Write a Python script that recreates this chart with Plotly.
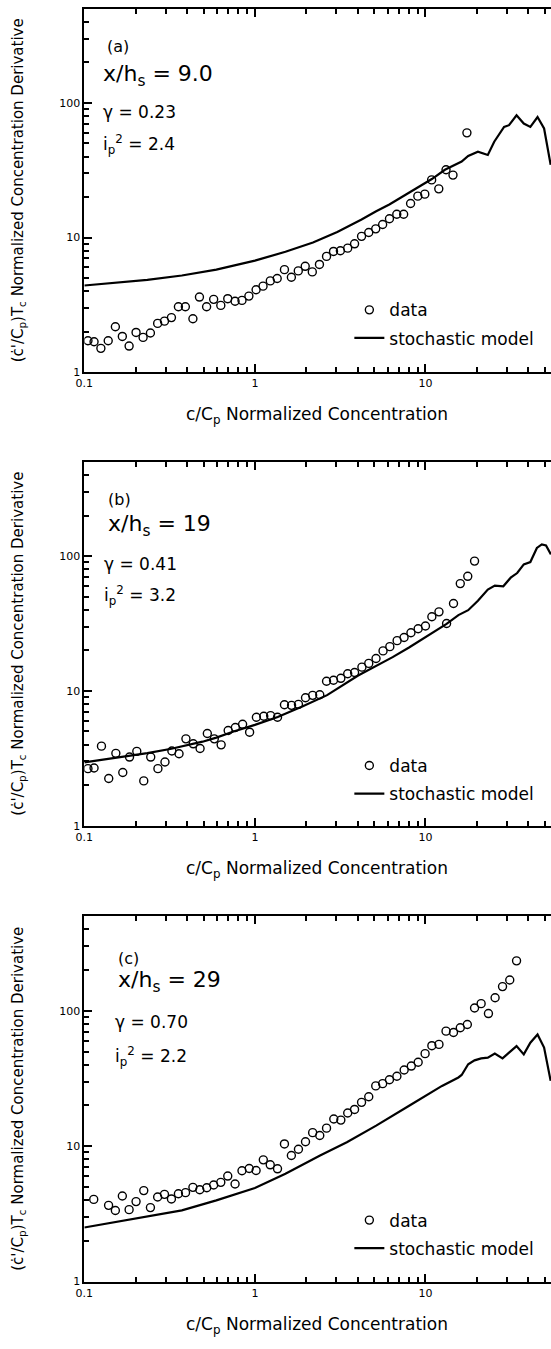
import plotly.graph_objects as go

W, H = 551, 1349
FONT = "DejaVu Sans, Liberation Sans, Arial, sans-serif"

# ---------------- data ----------------
a_data_x = [0.105, 0.114, 0.125, 0.138, 0.152, 0.167, 0.183, 0.201, 0.221, 0.244,
            0.269, 0.295, 0.324, 0.356, 0.391, 0.433, 0.473, 0.521, 0.573, 0.631,
            0.693, 0.765, 0.840, 0.922, 1.016, 1.116, 1.231, 1.351, 1.49, 1.636,
            1.796, 1.972, 2.17, 2.39, 2.63, 2.89, 3.17, 3.50, 3.84, 4.22,
            4.65, 5.11, 5.61, 6.15, 6.79, 7.45, 8.18, 9.02, 9.91, 10.87,
            11.97, 13.2, 14.5, 17.5]
a_data_y = [1.71, 1.68, 1.50, 1.71, 2.17, 1.84, 1.56, 1.97, 1.81, 1.95,
            2.30, 2.39, 2.54, 3.06, 3.06, 2.49, 3.61, 3.06, 3.47, 3.13,
            3.51, 3.36, 3.41, 3.67, 4.09, 4.35, 4.76, 4.96, 5.77, 5.07,
            5.65, 6.11, 5.55, 6.31, 7.24, 7.88, 7.97, 8.34, 8.98, 10.2,
            10.9, 11.6, 12.5, 13.8, 14.9, 14.9, 17.9, 20.3, 21.0, 26.8,
            23.0, 31.9, 29.1, 60.0]
a_model_x = [0.1, 0.147, 0.234, 0.373, 0.594, 1.0, 1.51, 2.19, 3.04, 4.22,
             5.14, 6.14, 8.02, 10.9, 13.0, 16.3, 17.8, 20.3, 23.2, 25.3,
             28.9, 30.9, 34.2, 37.7, 41.2, 45.4, 49.6, 54.2]
a_model_y = [4.40, 4.58, 4.85, 5.22, 5.77, 6.73, 7.84, 9.18, 11.0, 13.6,
             15.7, 17.6, 21.5, 27.2, 31.9, 36.7, 40.4, 43.5, 41.1, 51.5,
             66.4, 68.4, 81.0, 70.4, 66.4, 78.7, 64.7, 34.7]

b_data_x = [0.105, 0.114, 0.126, 0.139, 0.153, 0.168, 0.184, 0.203, 0.223, 0.245,
            0.270, 0.297, 0.326, 0.359, 0.394, 0.435, 0.477, 0.526, 0.578, 0.634,
            0.697, 0.768, 0.847, 0.931, 1.02, 1.127, 1.236, 1.357, 1.49, 1.64,
            1.80, 1.98, 2.18, 2.40, 2.63, 2.89, 3.19, 3.50, 3.84, 4.24,
            4.65, 5.13, 5.64, 6.18, 6.82, 7.49, 8.22, 9.06, 10.0, 10.9,
            12.0, 13.3, 14.6, 16.0, 17.7, 19.4]
b_data_y = [2.65, 2.68, 3.89, 2.24, 3.44, 2.48, 3.23, 3.56, 2.15, 3.23,
            2.65, 2.97, 3.58, 3.42, 4.41, 4.05, 3.74, 4.83, 4.41, 3.98,
            5.08, 5.35, 5.66, 4.94, 6.37, 6.48, 6.56, 6.37, 7.90, 7.81,
            7.95, 8.90, 9.27, 9.37, 11.8, 12.0, 12.4, 13.4, 13.7, 15.0,
            16.0, 17.4, 19.8, 21.3, 23.6, 24.9, 27.0, 28.9, 30.3, 35.5,
            38.6, 31.6, 44.5, 62.5, 70.8, 91.8]
b_model_x = [0.1, 0.147, 0.185, 0.234, 0.324, 0.372, 0.493, 0.594, 0.75, 1.0,
             1.36, 1.91, 2.65, 4.03, 5.14, 6.42, 8.01, 10.0, 12.5, 13.3,
             15.6, 17.8, 20.3, 23.2, 25.5, 28.6, 31.6, 34.5, 37.7, 41.2,
             45.0, 48.1, 50.9, 54.4]
b_model_y = [2.95, 3.15, 3.29, 3.45, 3.72, 3.87, 4.2, 4.5, 5.0, 5.6,
             6.4, 7.7, 9.3, 13.0, 15.3, 17.8, 21.0, 25.2, 29.9, 31.4,
             36.5, 39.7, 46.6, 56.4, 60.4, 59.7, 69.2, 74.9, 86.8, 90.3,
             115, 122, 120, 103]

c_data_x = [0.1135, 0.1387, 0.152, 0.167, 0.183, 0.201, 0.223, 0.244, 0.269, 0.295,
            0.324, 0.356, 0.392, 0.433, 0.475, 0.522, 0.573, 0.631, 0.693, 0.765,
            0.84, 0.926, 1.016, 1.12, 1.23, 1.357, 1.49, 1.636, 1.80, 1.98,
            2.18, 2.40, 2.63, 2.90, 3.19, 3.50, 3.84, 4.22, 4.65, 5.11,
            5.61, 6.15, 6.80, 7.50, 8.26, 9.06, 9.95, 10.9, 12.0, 13.2,
            14.6, 16.0, 17.6, 19.4, 21.2, 23.4, 25.6, 28.3, 31.2, 34.2]
c_data_y = [4.05, 3.66, 3.35, 4.29, 3.40, 3.90, 4.70, 3.52, 4.22, 4.41,
            4.08, 4.46, 4.54, 4.97, 4.77, 4.94, 5.17, 5.41, 6.02, 5.26,
            6.59, 6.85, 6.62, 7.93, 7.29, 6.81, 10.4, 8.54, 9.50, 10.8,
            12.6, 12.0, 13.6, 15.9, 15.6, 17.6, 18.7, 21.1, 23.2, 27.9,
            29.0, 31.0, 32.9, 36.6, 39.1, 41.7, 48.3, 55.3, 56.5, 70.8,
            69.2, 75.0, 79.3, 105, 113, 95.5, 125, 151, 169, 234]
c_model_x = [0.1, 0.147, 0.234, 0.373, 0.594, 1.0, 1.51, 2.41, 3.46, 5.14,
             8.02, 10.45, 12.5, 15.6, 16.3, 17.8, 19.4, 21.2, 23.2, 25.5,
             28.3, 30.9, 34.2, 37.7, 41.2, 45.4, 49.6, 54.2]
c_model_y = [2.51, 2.73, 3.0, 3.36, 3.98, 4.91, 6.26, 8.54, 10.7, 14.2,
             19.9, 24.2, 27.9, 32.2, 33.6, 40.3, 43.1, 44.6, 45.1, 48.3,
             44.6, 49.1, 54.9, 47.7, 58.2, 66.9, 53.5, 30.4]

panel_labels = ["(a)", "(b)", "(c)"]
xh_labels = ["x/h<sub>s</sub> = 9.0", "x/h<sub>s</sub> = 19", "x/h<sub>s</sub> = 29"]
gamma_labels = ["\u03b3 = 0.23", "\u03b3 = 0.41", "\u03b3 = 0.70"]
ip_labels = ["i<sub>p</sub><sup>2</sup> = 2.4", "i<sub>p</sub><sup>2</sup> = 3.2",
             "i<sub>p</sub><sup>2</sup> = 2.2"]

x_tick_vals = [0.1, 1, 10]
x_tick_text = ["0.1", "1", "10"]
y_tick_vals = [1, 10, 100]
y_tick_text = ["1", "10", "100"]
x_minor = [m * d for d in (0.1, 1, 10) for m in range(2, 10)]
y_minor = [m * d for d in (1, 10, 100) for m in range(2, 10)]

# ---------------- layout geometry (pixels) ----------------
PLOT_L = 76.6
panels_px = [(9.0, 374.0), (464.3, 830.0), (921.0, 1288.3)]  # top, bottom
text_px = [  # (label, xh, gamma, ip) : (x, y)
    [(98, 47), (94, 76), (94, 113), (94, 145)],
    [(99, 502), (99, 528), (95, 567), (95, 599)],
    [(109, 963), (109, 987), (106, 1027), (106, 1062)],
]
legend_mid = [326, 784, 1241]

def fx(px):
    return px / W

def fy(py):
    return 1 - py / H

data = [(a_data_x, a_data_y, a_model_x, a_model_y),
        (b_data_x, b_data_y, b_model_x, b_model_y),
        (c_data_x, c_data_y, c_model_x, c_model_y)]

fig = go.Figure()
annotations = []
for i, (dx, dy, mx, my) in enumerate(data):
    sfx = "" if i == 0 else str(i + 1)
    lg = "legend" + sfx
    fig.add_trace(go.Scatter(
        x=dx, y=dy, mode="markers", name="data",
        marker=dict(symbol="circle-open", size=8, color="black", line=dict(width=1.4, color="black")),
        xaxis="x" + sfx, yaxis="y" + sfx, legend=lg, legendgroup=f"d{i}"))
    fig.add_trace(go.Scatter(
        x=mx, y=my, mode="lines", name="stochastic model",
        line=dict(color="black", width=2.2),
        xaxis="x" + sfx, yaxis="y" + sfx, legend=lg, legendgroup=f"m{i}"))

    top, bot = panels_px[i]
    axis_common = dict(
        type="log", showline=True, linewidth=2, linecolor="black",
        ticks="inside", ticklen=8, tickwidth=2, tickcolor="black",
        showgrid=False, zeroline=False,
        tickfont=dict(family=FONT, size=11, color="black"),
    )
    minor_common = dict(ticks="inside", ticklen=5, tickwidth=1.5, tickcolor="black",
                        tickmode="array", showgrid=False)
    fig.update_layout(**{
        "xaxis" + sfx: dict(
            axis_common, range=[-1, 1.736], domain=[fx(PLOT_L), 1.0],
            anchor="y" + sfx, mirror="ticks",
            tickmode="array", tickvals=x_tick_vals, ticktext=x_tick_text,
            minor=dict(minor_common, tickvals=x_minor),
        ),
        "yaxis" + sfx: dict(
            axis_common, range=[0, 2.699], domain=[fy(bot), fy(top)],
            anchor="x" + sfx, mirror=False, side="left",
            tickmode="array", tickvals=y_tick_vals, ticktext=y_tick_text,
            ticklabelposition="outside",
            minor=dict(minor_common, tickvals=y_minor),
        ),
        lg: dict(
            x=fx(346), y=fy(legend_mid[i]), xanchor="left", yanchor="middle",
            bgcolor="rgba(0,0,0,0)", borderwidth=0, tracegroupgap=3,
            font=dict(family=FONT, size=17, color="black"),
        ),
    })

    # axis titles
    annotations.append(dict(
        text="(\u010b'/C<sub>p</sub>)T<sub>c</sub> Normalized Concentration Derivative",
        x=fx(10), y=fy((top + bot) / 2), xref="paper", yref="paper",
        textangle=-90, showarrow=False, xanchor="center", yanchor="middle",
        font=dict(family=FONT, size=15, color="black")))
    annotations.append(dict(
        text="c/C<sub>p</sub> Normalized Concentration",
        x=fx(313), y=fy(bot + 44), xref="paper", yref="paper",
        showarrow=False, xanchor="center", yanchor="middle",
        font=dict(family=FONT, size=17, color="black")))

    # panel text
    tp = text_px[i]
    for txt, (px, py), size in zip(
            [panel_labels[i], xh_labels[i], gamma_labels[i], ip_labels[i]],
            tp, [16, 22, 17, 17]):
        annotations.append(dict(
            text=txt, x=fx(px), y=fy(py), xref="paper", yref="paper",
            showarrow=False, xanchor="left", yanchor="middle",
            font=dict(family=FONT, size=size, color="black")))

fig.update_layout(
    width=W, height=H,
    margin=dict(l=0, r=0, t=0, b=0),
    paper_bgcolor="white", plot_bgcolor="white",
    showlegend=True,
    annotations=annotations,
)

fig.write_html("out.html")
